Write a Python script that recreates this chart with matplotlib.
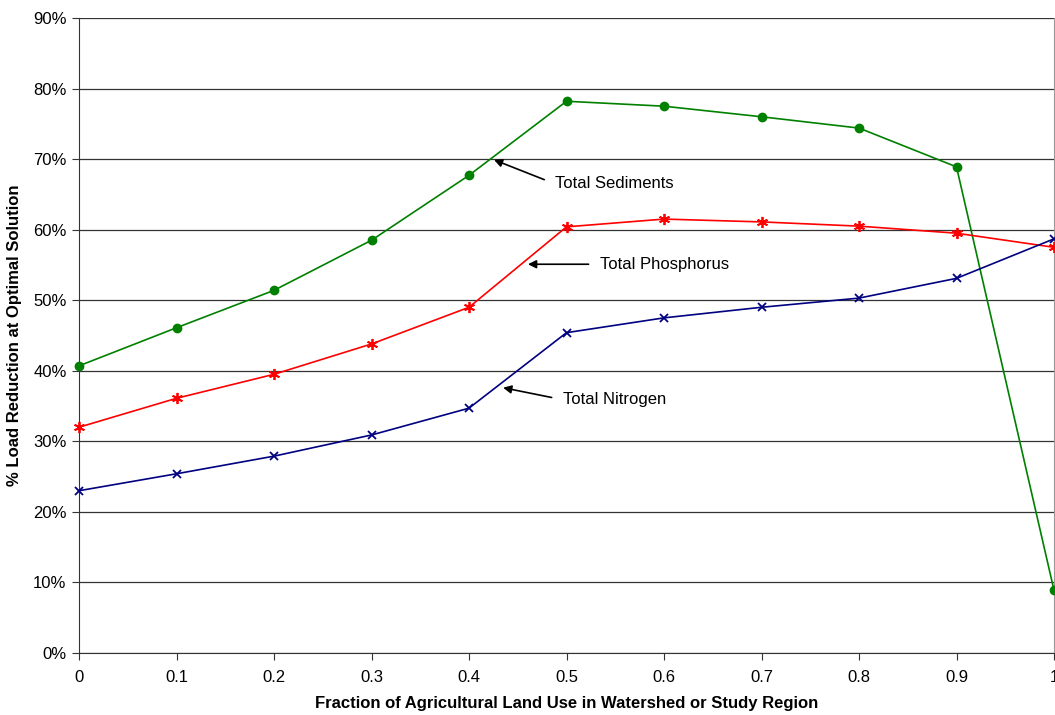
import matplotlib
matplotlib.use("Agg")
import matplotlib.pyplot as plt

plt.rcParams['font.family'] = ['Liberation Sans', 'DejaVu Sans']

x_vals = [0, 0.1, 0.2, 0.3, 0.4, 0.5, 0.6, 0.7, 0.8, 0.9, 1.0]
sediments = [40.7, 46.1, 51.4, 58.5, 67.7, 78.2, 77.5, 76.0, 74.4, 68.9, 8.9]
phosphorus = [32.0, 36.1, 39.5, 43.8, 49.0, 60.4, 61.5, 61.1, 60.5, 59.5, 57.5]
nitrogen = [23.0, 25.4, 27.9, 30.9, 34.7, 45.4, 47.5, 49.0, 50.3, 53.1, 58.7]
x_ticks = [0, 0.1, 0.2, 0.3, 0.4, 0.5, 0.6, 0.7, 0.8, 0.9, 1]
x_tick_labels = ["0", "0.1", "0.2", "0.3", "0.4", "0.5", "0.6", "0.7", "0.8", "0.9", "1"]
y_ticks = [0, 10, 20, 30, 40, 50, 60, 70, 80, 90]
y_tick_labels = [f"{v}%" for v in y_ticks]

fig = plt.figure(figsize=(10.55, 7.15), dpi=100)
ax = fig.add_axes([79/1055, 62/715, 975/1055, 635/715])

ax.set_xlim(0, 1)
ax.set_ylim(0, 90)
ax.set_yticks(y_ticks)
ax.set_yticklabels(y_tick_labels)
ax.set_xticks(x_ticks)
ax.set_xticklabels(x_tick_labels)
ax.grid(axis='y', color='#333333', linewidth=0.9)
ax.set_axisbelow(True)

ax.spines['top'].set_visible(False)
ax.spines['right'].set_color('#999999')
ax.spines['left'].set_color('#333333')
ax.spines['bottom'].set_color('#333333')
ax.tick_params(axis='both', direction='out', length=5, color='#333333', labelsize=12)
ax.tick_params(axis='y', pad=4)
ax.tick_params(axis='x', pad=7)

ax.plot(x_vals, sediments, color='#008000', marker='o', markersize=6, linewidth=1.2, clip_on=False, zorder=3)
ax.plot(x_vals, phosphorus, color='#ff0000', marker=(6, 2, 0), markersize=8, markeredgewidth=1.3, linewidth=1.2, clip_on=False, zorder=3)
ax.plot(x_vals, nitrogen, color='#000080', marker='x', markersize=6, markeredgewidth=1.3, linewidth=1.2, clip_on=False, zorder=3)

def arrow():
    return dict(arrowstyle='-|>', color='black', linewidth=1.2, mutation_scale=12,
                shrinkA=6, shrinkB=0, relpos=(0, 0.5))

ax.annotate('Total Sediments', xy=(0.4256, 69.9), xytext=(0.488, 66.5), fontsize=12, va='center', ha='left', arrowprops=arrow())
ax.annotate('Total Phosphorus', xy=(0.4605, 55.1), xytext=(0.534, 55.1), fontsize=12, va='center', ha='left', arrowprops=arrow())
ax.annotate('Total Nitrogen', xy=(0.435, 37.6), xytext=(0.496, 35.9), fontsize=12, va='center', ha='left', arrowprops=arrow())

ax.set_xlabel('Fraction of Agricultural Land Use in Watershed or Study Region', fontsize=12, fontweight='bold', labelpad=8)
ax.set_ylabel('% Load Reduction at Optimal Solution', fontsize=12, fontweight='bold', labelpad=8)

fig.savefig('out.png', dpi=100)
